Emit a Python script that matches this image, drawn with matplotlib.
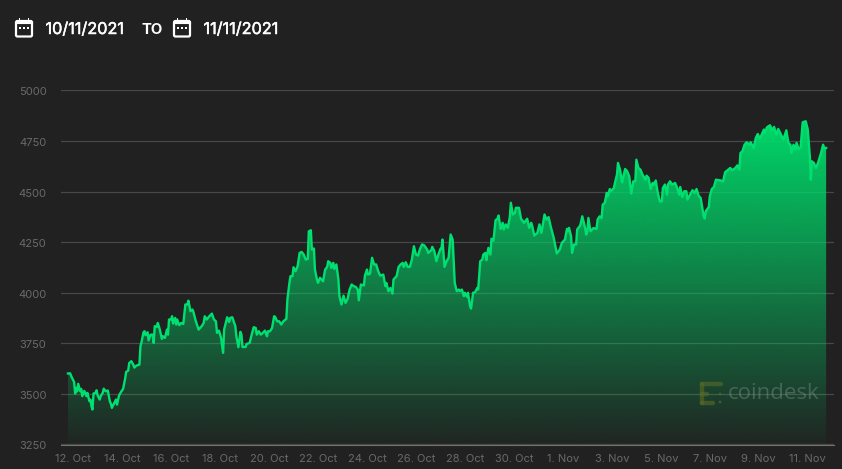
import numpy as np
import matplotlib
matplotlib.use("Agg")
import matplotlib.pyplot as plt
import matplotlib.patheffects as pe
from matplotlib.patches import FancyBboxPatch, Rectangle, Circle
from matplotlib.colors import LinearSegmentedColormap

hours = [0,2,4,6,7,8,9,10,12,13,14,16,18,19,21,22,23,24,25,27,28,29,31,32,34,35,37,39,41,42,43,45,47,48,50,52,54,56,57,59,60,62,64,65,67,70,71,72,74,75,76,78,79,81,83,84,85,87,88,90,92,93,95,97,98,99,101,102,103,105,106,107,109,111,113,115,117,118,120,122,123,125,128,131,133,134,136,138,141,143,145,146,148,150,152,153,155,156,158,159,161,164,165,167,169,170,171,174,175,178,180,182,184,185,187,189,191,193,195,196,198,200,202,203,205,207,209,211,214,215,217,218,220,221,223,225,227,229,231,233,235,236,238,239,241,242,244,245,247,
250,252,254,255,257,258,260,261,263,265,266,268,270,272,274,276,278,280,282,284,285,287,290,291,293,294,296,298,300,302,304,306,309,311,312,314,316,318,319,322,324,326,328,329,331,333,335,337,339,341,343,345,347,349,352,353,356,357,359,361,363,365,366,367,369,371,373,375,377,379,381,383,384,386,388,389,391,392,394,395,397,399,401,402,404,406,407,409,410,412,414,415,417,419,421,422,424,426,427,429,431,433,434,436,438,439,442,444,447,450,452,454,455,457,460,462,464,467,469,471,473,476,477,479,482,484,487,489,490,491,493,494,496,498,499,502,
504,506,508,509,510,512,515,518,519,521,523,524,526,528,529,531,532,535,536,538,539,541,543,546,548,550,552,554,556,557,559,561,563,566,567,569,571,573,574,576,578,580,582,583,585,587,588,590,592,595,597,599,600,602,604,606,607,610,612,614,616,618,620,623,624,625,628,629,631,633,635,639,642,644,647,649,651,654,656,658,659,661,663,665,668,669,672,674,676,678,682,683,685,688,690,692,694,696,698,701,704,706,708,709,711,713,714,716,718,720,723,725,727,728,729,731,733,735,738,740,741,743]
prices = [3601,3602,3579,3559,3502,3530,3513,3550,3513,3525,3489,3515,3489,3505,3464,3472,3439,3423,3502,3505,3518,3493,3472,3489,3505,3526,3513,3517,3464,3452,3431,3452,3472,3447,3492,3510,3525,3576,3609,3615,3653,3662,3645,3630,3640,3645,3736,3755,3805,3810,3790,3805,3765,3793,3793,3752,3835,3831,3851,3818,3772,3785,3777,3818,3793,3868,3868,3884,3848,3876,3843,3868,3840,3851,3846,3942,3942,3961,3909,3917,3904,3864,3818,3835,3851,3884,3868,3881,3897,3868,3859,3802,3813,3777,3703,3818,3859,3879,3856,3876,3879,3835,3785,3731,3807,3793,3732,3732,3747,3752,3793,3830,3826,3793,3810,3793,3802,3813,3785,3810,3810,3826,3884,3881,3859,3859,3843,3859,3871,3966,4049,4082,4082,4126,4107,4131,4197,4202,4189,4164,4168,4304,4309,4214,4219,4115,4065,4049,4074,
4057,4115,4128,4156,4148,4123,4148,4118,4140,4066,3983,3942,3986,3950,3970,4016,4041,4033,4029,4016,3963,4041,4036,4085,4115,4090,4095,4173,4140,4140,4107,4085,4090,4033,4049,4008,4024,3996,4066,4082,4128,4140,4148,4128,4151,4128,4128,4164,4230,4189,4184,4217,4239,4235,4214,4197,4211,4227,4206,4156,4189,4217,4217,4263,4128,4156,4173,4288,4263,4049,4008,4016,4008,4016,3983,4000,3980,4000,3934,3922,4000,4003,4024,4016,4156,4164,4189,4197,4161,4222,4189,4267,4258,4359,4366,4382,4316,4346,4313,4338,4321,4375,4445,4387,4395,4420,4420,4366,4346,4366,4321,4346,4329,4283,4296,4338,4296,4387,4362,4374,4329,4272,4247,4194,4214,4247,4263,4316,4305,4321,4280,4197,4239,4239,4313,4333,
4378,4337,4288,4304,4370,4304,4320,4316,4362,4378,4370,4436,4444,4494,4477,4513,4502,4518,4543,4584,4642,4609,4546,4612,4601,4576,4490,4551,4551,4658,4617,4609,4584,4559,4579,4568,4513,4543,4535,4555,4494,4452,4452,4518,4535,4485,4535,4551,4535,4543,4518,4485,4523,4474,4502,4502,4461,4489,4507,4494,4513,4480,4469,4378,4367,4403,4424,4477,4513,4523,4559,4556,4551,4596,4609,4617,4606,4617,4630,4609,4691,4700,4732,4744,4732,4744,4716,4765,4785,4761,4807,4790,4818,4828,4803,4820,4782,4810,4790,4757,4803,4741,4732,4691,4732,4708,4741,4711,4719,4843,4848,4807,4675,4559,4650,4642,4617,4642,4691,4732,4716,4716]
y_ticks = [3250,3500,3750,4000,4250,4500,4750,5000]
x_tick_hours = [5,53,101,149,197,245,293,341,389,437,485,533,581,629,677,725]
x_tick_labels = ["12. Oct","14. Oct","16. Oct","18. Oct","20. Oct","22. Oct","24. Oct","26. Oct","28. Oct","30. Oct","1. Nov","3. Nov","5. Nov","7. Nov","9. Nov","11. Nov"]
date_from = "10/11/2021"
date_to = "11/11/2021"

BG = "#212121"
W, H = 842, 469
plt.rcParams["font.family"] = ["Inter", "Liberation Sans", "DejaVu Sans"]
fig = plt.figure(figsize=(W/100, H/100), dpi=100, facecolor=BG)
ax = fig.add_axes([61/W, (H-444.5)/H, 773/W, 354/H], facecolor=BG)
ax.set_xlim(-6.86, 750.7)
ax.set_ylim(3250, 5000)

ax.set_yticks(y_ticks)
ax.set_xticks(x_tick_hours, x_tick_labels)
ax.grid(axis="y", color="#484848", lw=0.9, zorder=1)
ax.grid(axis="x", visible=False)
for s in ["top", "left", "right"]:
    ax.spines[s].set_visible(False)
ax.spines["bottom"].set_color("#707070")
ax.spines["bottom"].set_linewidth(0.8)
ax.tick_params(axis="both", length=0, labelcolor="#6a6a6a", labelsize=8.0)
ax.tick_params(axis="y", pad=10.5)
ax.tick_params(axis="x", pad=6.5)
for t in ax.get_yticklabels():
    t.set_y(t.get_position()[1])
    t.set_transform(t.get_transform() + matplotlib.transforms.ScaledTranslation(0, -1/100, fig.dpi_scale_trans))

# gradient area
cmap = LinearSegmentedColormap.from_list("g", [(0/255, 216/255, 105/255, 1.0), (0/255, 216/255, 105/255, 0.0)])
top = 4850
im = ax.imshow(np.linspace(0, 1, 256).reshape(-1, 1), cmap=cmap, vmin=0, vmax=1.03,
               extent=[hours[0], hours[-1], 3250, top], aspect="auto", origin="upper", zorder=2)
ax.set_xlim(-6.86, 750.7)
ax.set_ylim(3250, 5000)
poly = ax.fill_between(hours, prices, 3250, color="none", lw=0)
im.set_clip_path(poly.get_paths()[0], transform=ax.transData)
ax.plot(hours, prices, color="#00E070", lw=1.7, solid_joinstyle="round", zorder=3)

# watermark
fig.text(727.5/W, (H-393.5)/H, "coindesk", color="#a8b8ae", alpha=0.3, fontsize=16,
         family=["Open Sans", "DejaVu Sans"], va="center", ha="left", zorder=4)
oa = fig.add_axes([0, 0, 1, 1], facecolor="none")
oa.set_xlim(0, W); oa.set_ylim(H, 0); oa.axis("off")
olive = "#5b6b25"
for xy in [((701.5, 384), (720.5, 384)), ((701.5, 384), (701.5, 403)), ((701.5, 394), (707, 394)), ((701.5, 403), (712.5, 403))]:
    oa.plot(*zip(*xy), color=olive, lw=3.2, solid_capstyle="round", alpha=0.6)
for p in [(720, 394), (720, 402)]:
    oa.add_patch(Circle(p, 0.7, color=olive, alpha=0.6))

# header icons and dates
def calendar(x):
    oa.add_patch(FancyBboxPatch((x+1, 21), 16, 15.5, boxstyle="round,pad=0,rounding_size=1.5",
                                fc="none", ec="white", lw=1.6))
    oa.add_patch(Rectangle((x+1, 21), 16, 2.5, fc="white", ec="white", lw=0.8))
    for dx in (4, 8, 12):
        oa.add_patch(Rectangle((x+dx, 27.3), 1.8, 1.8, fc="white", ec="none"))
    for dx in (4.5, 13.5):
        oa.add_patch(Rectangle((x+dx-0.8, 18), 1.6, 3, fc="white", ec="none"))

calendar(15)
calendar(173)
for x, s, w, fs in [(45.5, date_from, "normal", 11.7), (141, "TO", "bold", 10.8), (203.5, date_to, "normal", 11.7)]:
    tx = fig.text(x/W, (H-29.5)/H, s, color="white", fontsize=fs, fontweight=w, va="center", ha="left",
                  family=["Inter", "Liberation Sans"])
    if w == "normal":
        tx.set_path_effects([pe.withStroke(linewidth=0.35, foreground="white")])

fig.savefig("out.png", dpi=100, facecolor=BG)
